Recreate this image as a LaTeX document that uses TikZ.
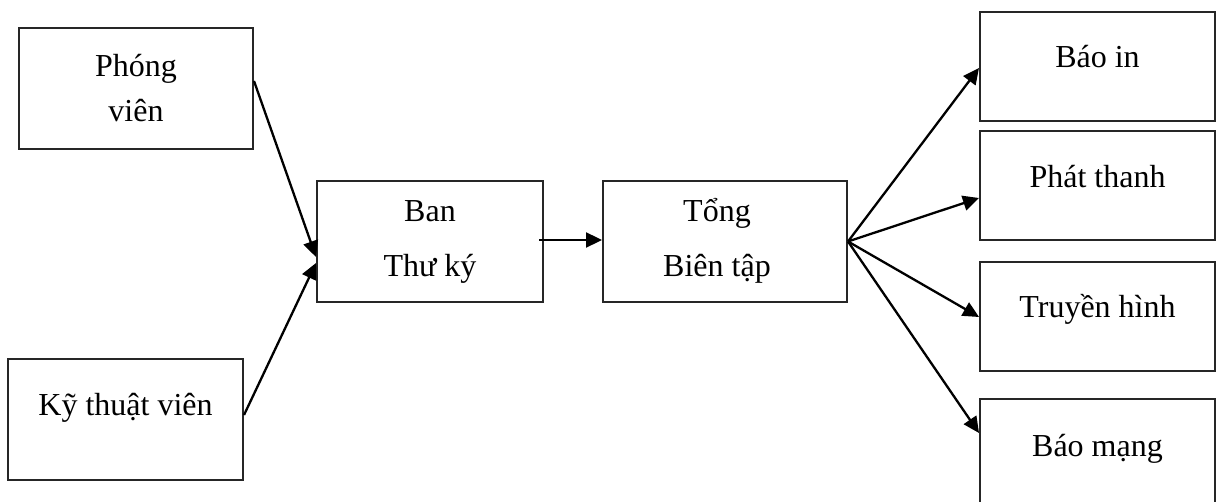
\documentclass[tikz,border=0pt]{standalone}
\usepackage{fontspec}
\setmainfont{Liberation Serif}
\usetikzlibrary{arrows.meta}
\begin{document}
\begin{tikzpicture}[x=1pt,y=-1pt,
  box/.style={draw=black!85, line width=2pt, rectangle, inner sep=0pt},
  txt/.style={anchor=base, inner sep=0pt, font=\fontsize{32}{38}\selectfont},
  conn/.style={line width=2.3pt, -{Triangle[length=16pt,width=15pt]}}]
\useasboundingbox (0,0) rectangle (1217,502);
% boxes
\node[box, minimum width=234pt, minimum height=121pt] (pv) at (136,88.5) {};
\node[box, minimum width=235pt, minimum height=121pt] (kt) at (125.5,419.5) {};
\node[box, minimum width=226pt, minimum height=121pt] (ban) at (430,241.5) {};
\node[box, minimum width=244pt, minimum height=121pt] (tong) at (725,241.5) {};
\node[box, minimum width=235pt, minimum height=109pt] (bi) at (1097.5,66.5) {};
\node[box, minimum width=235pt, minimum height=109pt] (pt) at (1097.5,185.5) {};
\node[box, minimum width=235pt, minimum height=109pt] (th) at (1097.5,316.5) {};
\node[box, minimum width=235pt, minimum height=109pt] (bm) at (1097.5,453.5) {};
% texts
\node[txt] (pv1) at (136,77) {Phóng};
\node[txt] (pv2) at (136,122) {viên};
\node[txt] (kt1) at (125.5,415) {Kỹ thuật viên};
\node[txt] (ban1) at (430,222) {Ban};
\node[txt] (ban2) at (430,277) {Thư ký};
\node[txt] (tong1) at (717,222) {Tổng};
\node[txt] (tong2) at (717,277) {Biên tập};
\node[txt] (bi1) at (1097.5,68) {Báo in};
\node[txt] (pt1) at (1097.5,188) {Phát thanh};
\node[txt] (th1) at (1097.5,318) {Truyền hình};
\node[txt] (bm1) at (1097.5,456) {Báo mạng};
% connectors
\draw[conn] ([yshift=7.5pt]pv.east) -- ([yshift=-15.5pt]ban.west);
\draw[conn] ([yshift=4.5pt]kt.east) -- ([yshift=-21.5pt]ban.west);
\draw[conn] ([xshift=-5pt,yshift=1.5pt]ban.east) -- ([yshift=1.5pt]tong.west);
\draw[conn] (tong.east) -- ([yshift=-1.5pt]bi.west);
\draw[conn] (tong.east) -- ([yshift=-12.5pt]pt.west);
\draw[conn] (tong.east) -- ([yshift=-0.5pt]th.west);
\draw[conn] (tong.east) -- ([yshift=20.5pt]bm.west);
\end{tikzpicture}
\end{document}
